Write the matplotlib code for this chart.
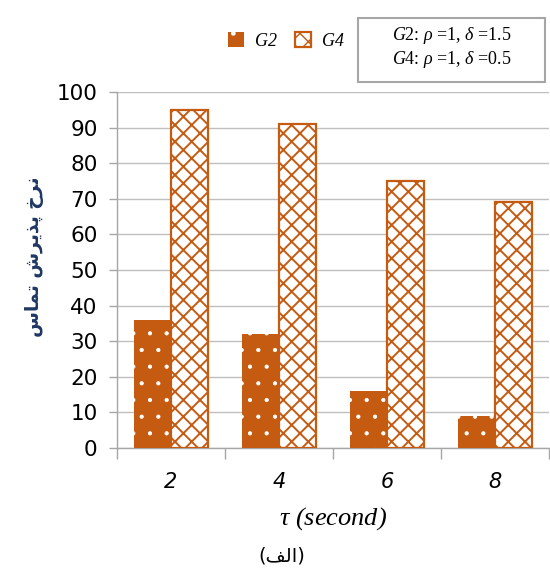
import matplotlib
matplotlib.use("Agg")
import matplotlib.pyplot as plt
from matplotlib.patches import Patch, Rectangle
import numpy as np

# ---- data ----
categories = ["2", "4", "6", "8"]
g2_values = [36, 32, 16, 9]
g4_values = [95, 91, 75, 69]
series_names = ["G2", "G4"]
y_ticks = [0, 10, 20, 30, 40, 50, 60, 70, 80, 90, 100]

# Persian text in visual (presentation-form) order
ylabel_text = "\uFEB1\uFE8E\uFEE4\uFE97 \uFEB5\uFEAE\uFBFE\uFEAC\uFB58 \uFEA5\uFEAE\uFEE7"
caption_text = "(\uFED2\uFEDF\uFE8D)"

ORANGE = "#C55A11"
GRID = "#BFBFBF"
AXC = "#A6A6A6"

plt.rcParams['mathtext.fontset'] = 'custom'
plt.rcParams['mathtext.rm'] = 'Liberation Serif'
plt.rcParams['mathtext.it'] = 'Liberation Serif:italic'

fig = plt.figure(figsize=(5.5, 5.73), dpi=100)
ax = fig.add_axes([117/550, 125/573, 432/550, 356/573])

x = np.arange(len(categories))
w = 0.34
with plt.rc_context({'hatch.linewidth': 0.6}):
    b2 = ax.bar(x - w/2, g2_values, width=w, color=ORANGE, edgecolor="white",
                linewidth=0, hatch=".", zorder=3)
    h2 = Patch(facecolor=ORANGE, edgecolor="white", linewidth=0, hatch=".")
with plt.rc_context({'hatch.linewidth': 1.4}):
    b4 = ax.bar(x + w/2, g4_values, width=w, color="white", edgecolor=ORANGE,
                linewidth=1.6, hatch="xx", zorder=3)
    h4 = Patch(facecolor="white", edgecolor=ORANGE, linewidth=1.6, hatch="xx")
try:
    for p in list(b2) + [h2]:
        p.set_hatch_linewidth(0.6)
    for p in list(b4) + [h4]:
        p.set_hatch_linewidth(1.4)
except AttributeError:
    pass

ax.set_xlim(-0.5, len(categories) - 0.5)
ax.set_ylim(0, 100)
ax.set_yticks(y_ticks)
ax.set_xticks(x)
ax.set_xticklabels(categories, fontsize=15, fontstyle='italic', family='DejaVu Sans')
ax.set_xticks(np.arange(len(categories) + 1) - 0.5, minor=True)
ax.tick_params(axis='x', which='major', length=0, pad=17)
ax.tick_params(axis='x', which='minor', length=8, color=AXC, width=1)
ax.tick_params(axis='y', length=6, color=AXC, width=1, labelsize=15.5, pad=8)
for lab in ax.get_yticklabels():
    lab.set_family('DejaVu Sans')

ax.yaxis.grid(True, color=GRID, linewidth=1)
ax.set_axisbelow(True)
for s in ['top', 'right']:
    ax.spines[s].set_visible(False)
for s in ['left', 'bottom']:
    ax.spines[s].set_color(AXC)
    ax.spines[s].set_linewidth(1)

ax.set_xlabel(r"$\tau$ (second)", fontsize=19, family='Liberation Serif',
              fontstyle='italic', labelpad=10)
fig.text(35/550, 1 - 257/573, ylabel_text, rotation=90, ha='center', va='center',
         fontsize=13.5, color="#1F3763", fontweight='bold',
         family=['DejaVu Sans'])
fig.text(282/550, 1 - 556/573, caption_text, ha='center', va='center',
         fontsize=14, family=['DejaVu Sans'])

# legend
leg = fig.legend([h2, h4], series_names, loc='center', bbox_to_anchor=(286/550, 1 - 41/573),
                 ncol=2, frameon=False, handlelength=0.9, handleheight=0.9,
                 handletextpad=0.6, columnspacing=1.0,
                 prop={'family': 'Liberation Serif', 'style': 'italic', 'size': 13})

# parameter box
fig.patches.append(Rectangle((358/550, 1 - 82/573), 187/550, 64/573,
                             transform=fig.transFigure, facecolor='white',
                             edgecolor='#A6A6A6', linewidth=1.5))
fig.text(452/550, 1 - 35/573, r"$G2$: $\rho$ =1, $\delta$ =1.5", ha='center', va='center',
         fontsize=13, family='Liberation Serif')
fig.text(452/550, 1 - 60/573, r"$G4$: $\rho$ =1, $\delta$ =0.5", ha='center', va='center',
         fontsize=13, family='Liberation Serif')

fig.savefig("out.png", dpi=100)
